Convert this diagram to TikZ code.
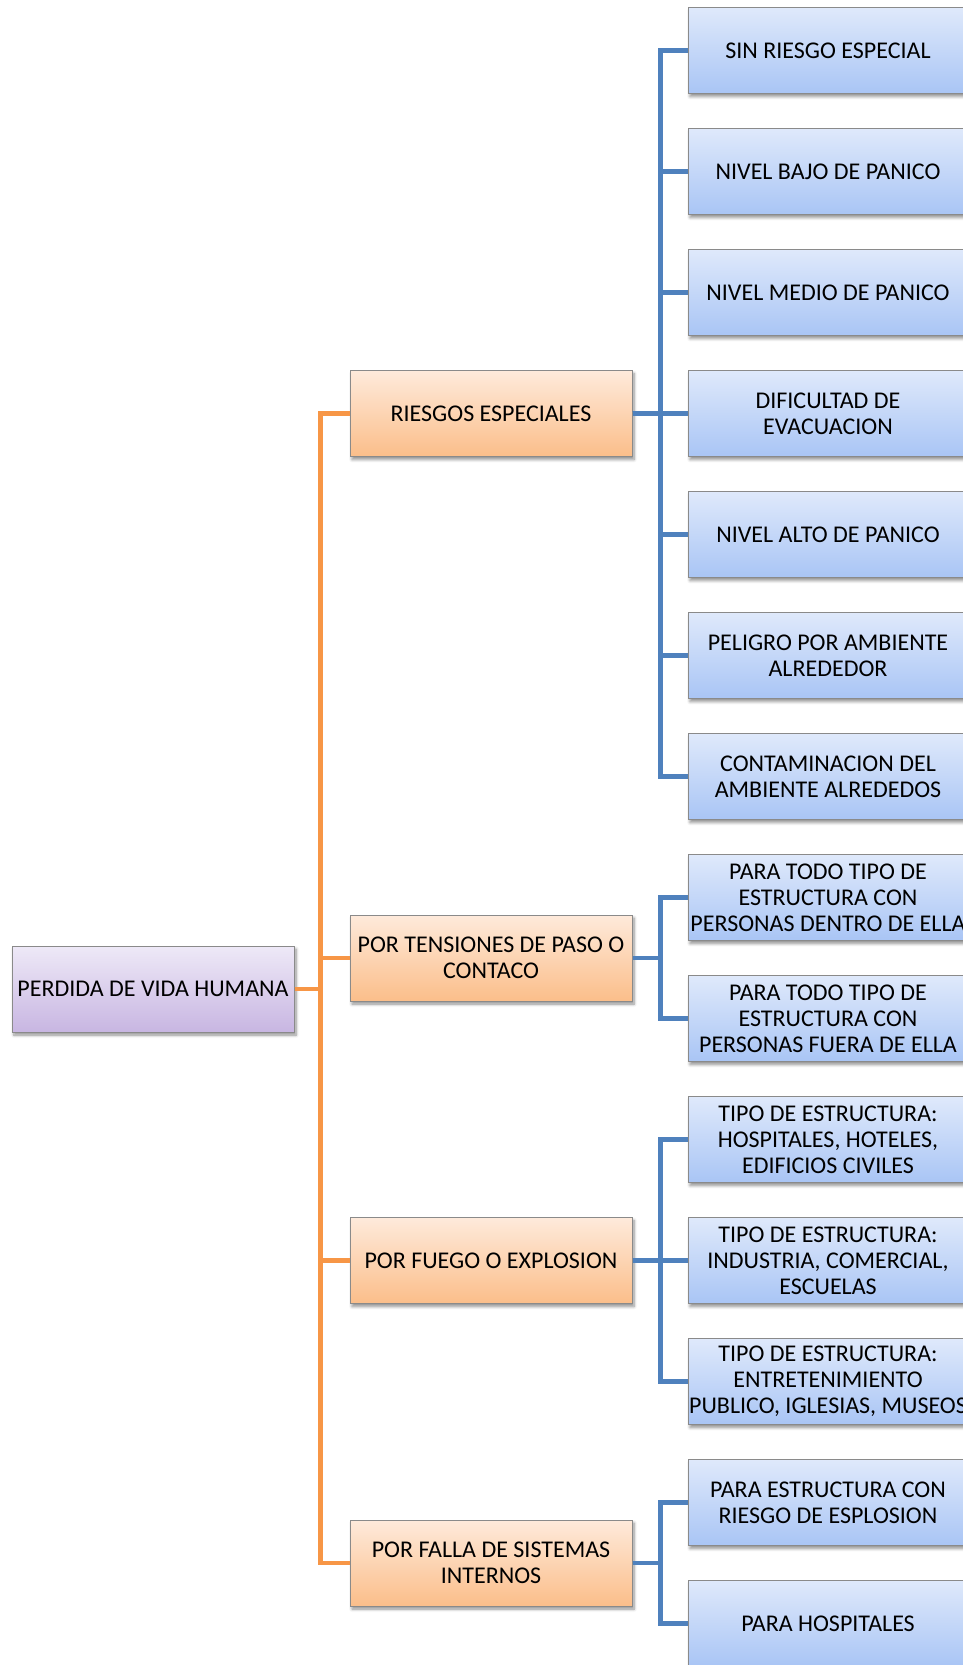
\documentclass[tikz,border=0pt]{standalone}
\usepackage{fontspec}
\setmainfont{Carlito}
\usetikzlibrary{shadows.blur}

\definecolor{orangeline}{HTML}{F79646}
\definecolor{blueline}{HTML}{4F81BD}
\definecolor{boxedge}{HTML}{8A8A8A}
\definecolor{rootTop}{HTML}{EEE9F7}
\definecolor{rootBot}{HTML}{C8B6E2}
\definecolor{orTop}{HTML}{FEEADB}
\definecolor{orBot}{HTML}{FBBE8A}
\definecolor{blTop}{HTML}{DFE9FB}
\definecolor{blBot}{HTML}{A9C5F5}

\tikzset{
  card/.style={draw=boxedge, line width=1pt, minimum width=282pt, minimum height=86pt,
    inner sep=0pt, align=center, text=black,
    font=\fontsize{24}{26}\selectfont,
    blur shadow={shadow xshift=2pt, shadow yshift=-3pt, shadow blur steps=6,
      shadow blur radius=3pt, shadow opacity=45}},
  rootbox/.style={card, top color=rootTop, bottom color=rootBot},
  midbox/.style={card, top color=orTop, bottom color=orBot},
  leafbox/.style={card, top color=blTop, bottom color=blBot, minimum width=280pt},
  oline/.style={draw=orangeline, line width=4.5pt},
  bline/.style={draw=blueline, line width=4.5pt},
}

\begin{document}
\begin{tikzpicture}[x=1pt, y=-1pt]
\useasboundingbox (0,0) rectangle (963,1665);
\clip (0,0) rectangle (963,1665);

% root
\node[rootbox] (root) at (153,989) {PERDIDA DE VIDA HUMANA};

% second level
\node[midbox] (o1) at (491,413.5) {RIESGOS ESPECIALES};
\node[midbox] (o2) at (491,958) {POR TENSIONES DE PASO O\\CONTACO};
\node[midbox] (o3) at (491,1260.5) {POR FUEGO O EXPLOSION};
\node[midbox] (o4) at (491,1563) {POR FALLA DE SISTEMAS\\INTERNOS};

% third level
\node[leafbox] (b0)  at (828,50.5)   {SIN RIESGO ESPECIAL};
\node[leafbox] (b1)  at (828,171.5)  {NIVEL BAJO DE PANICO};
\node[leafbox] (b2)  at (828,292.5)  {NIVEL MEDIO DE PANICO};
\node[leafbox] (b3)  at (828,413.5)  {DIFICULTAD DE\\EVACUACION};
\node[leafbox] (b4)  at (828,534.5)  {NIVEL ALTO DE PANICO};
\node[leafbox] (b5)  at (828,655.5)  {PELIGRO POR AMBIENTE\\ALREDEDOR};
\node[leafbox] (b6)  at (828,776.5)  {CONTAMINACION DEL\\AMBIENTE ALREDEDOS};
\node[leafbox] (b7)  at (828,897.5)  {PARA TODO TIPO DE\\ESTRUCTURA CON\\PERSONAS DENTRO DE ELLA};
\node[leafbox] (b8)  at (828,1018.5) {PARA TODO TIPO DE\\ESTRUCTURA CON\\PERSONAS FUERA DE ELLA};
\node[leafbox] (b9)  at (828,1139.5) {TIPO DE ESTRUCTURA:\\HOSPITALES, HOTELES,\\EDIFICIOS CIVILES};
\node[leafbox] (b10) at (828,1260.5) {TIPO DE ESTRUCTURA:\\INDUSTRIA, COMERCIAL,\\ESCUELAS};
\node[leafbox] (b11) at (828,1381.5) {TIPO DE ESTRUCTURA:\\ENTRETENIMIENTO\\PUBLICO, IGLESIAS, MUSEOS};
\node[leafbox] (b12) at (828,1502.5) {PARA ESTRUCTURA CON\\RIESGO DE ESPLOSION};
\node[leafbox] (b13) at (828,1623.5) {PARA HOSPITALES};

% root to second level
\foreach \o in {o1,o2,o3,o4}
  \draw[oline] (root.east) -- ([xshift=26pt]root.east) |- (\o.west);

% second to third level
\foreach \b in {b0,b1,b2,b3,b4,b5,b6}
  \draw[bline] (o1.east) -- ([xshift=28pt]o1.east) |- (\b.west);
\foreach \b in {b7,b8}
  \draw[bline] (o2.east) -- ([xshift=28pt]o2.east) |- (\b.west);
\foreach \b in {b9,b10,b11}
  \draw[bline] (o3.east) -- ([xshift=28pt]o3.east) |- (\b.west);
\foreach \b in {b12,b13}
  \draw[bline] (o4.east) -- ([xshift=28pt]o4.east) |- (\b.west);
\end{tikzpicture}
\end{document}
